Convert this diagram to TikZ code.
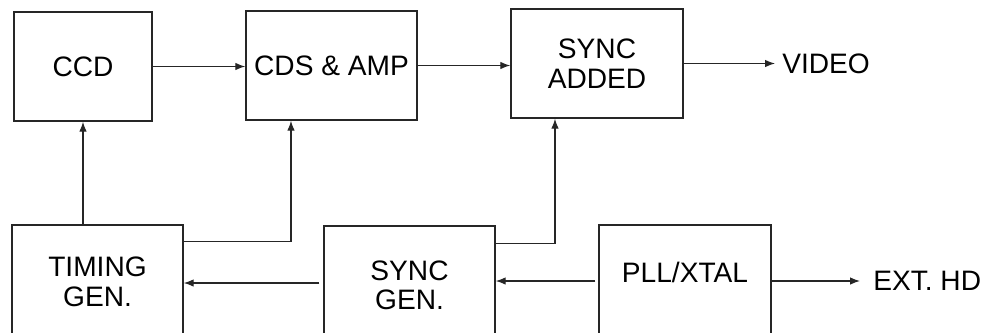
\documentclass[tikz,border=0pt]{standalone}
\usepackage{fontspec}
\setmainfont{Liberation Sans}
\usetikzlibrary{arrows.meta, positioning}

\begin{document}
\begin{tikzpicture}[
  x=0.025cm, y=-0.025cm,
  blk/.style = {
    rectangle, draw=black!85, line width=1pt,
    align=center, inner sep=0pt,
    font=\fontsize{20}{21}\selectfont
  },
  topblk/.style = {blk, minimum height=2.725cm},
  lowblk/.style = {blk, minimum width=4.275cm},
  lbl/.style = {font=\fontsize{20}{21}\selectfont, inner sep=0pt},
  arr/.style = {-{Latex[length=0.25cm, width=0.19cm]}, line width=0.9pt, black!85}
]
\useasboundingbox (0,0) rectangle (988,332);
\clip (0,0) rectangle (988,332);

% Top row: CCD -> CDS & AMP -> SYNC ADDED -> VIDEO
\node[topblk, minimum width=3.45cm]  (ccd)   at (83,66.5)   {CCD};
\node[topblk, minimum width=4.275cm] (cds)   at (331.5,65.5) {CDS \& AMP};
\node[topblk, minimum width=4.3cm]   (sync)  at (597,63.5)  {SYNC\\ADDED};
\node[lbl, anchor=west]              (video) at (782,63.5)  {VIDEO};

% Bottom row: TIMING GEN. <- SYNC GEN. <- PLL/XTAL -> EXT. HD
\node[lowblk, minimum height=2.85cm]  (timing) at (97.5,282)  {TIMING\\GEN.};
\node[lowblk, minimum height=2.975cm] (syncgen) at (409.5,285.5) {SYNC\\GEN.};
\node[lowblk, minimum width=4.3cm, minimum height=2.8cm,
      text height=0.55cm, text depth=0.5cm] (pll) at (685,281) {PLL/XTAL};
\node[lbl, anchor=west]               (exthd) at (873,281) {EXT. HD};

% Top row arrows
\draw[arr] (ccd.east) -- (cds.west |- ccd.east);
\draw[arr] (cds.east) -- (sync.west |- cds.east);
\draw[arr, shorten >=0.175cm] (sync.east) -- (video.west);

% Up from the generators
\draw[arr] (ccd.south |- timing.north) -- (ccd.south);
\draw[arr] (timing.north east) ++(0,17) -| ([xshift=-1.0125cm]cds.south);
\draw[arr] (syncgen.north east) ++(0,18) -| ([xshift=-1.05cm]sync.south);

% Bottom row arrows
\draw[arr, shorten <=0.1cm] (syncgen.west |- 0,283) -- (timing.east |- 0,283);
\draw[arr, shorten <=0.075cm] (pll.west) -- (syncgen.east |- pll.west);
\draw[arr, shorten >=0.325cm] (pll.east) -- (exthd.west);
\end{tikzpicture}
\end{document}
